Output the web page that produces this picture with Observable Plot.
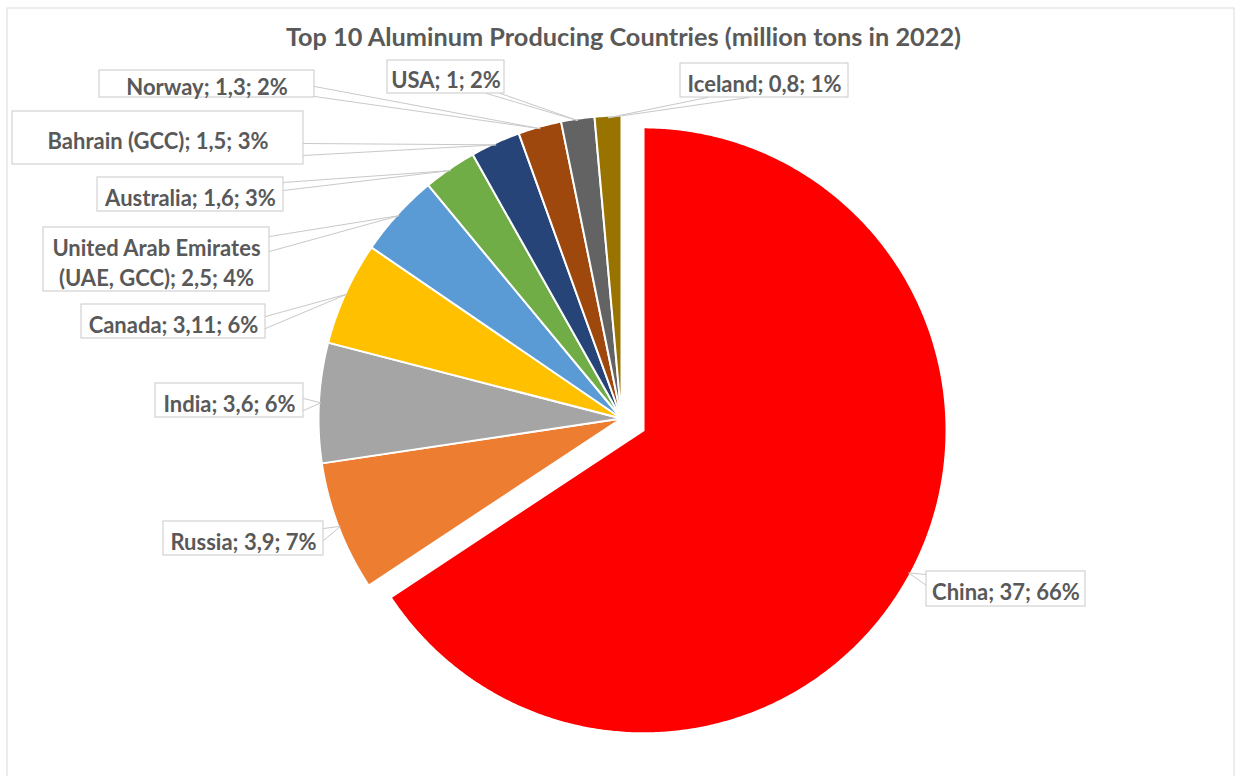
<!DOCTYPE html>
<html>
<head>
<meta charset="utf-8">
<script src="https://cdn.jsdelivr.net/npm/d3@7"></script>
<script src="https://cdn.jsdelivr.net/npm/@observablehq/plot@0.6"></script>
<style>
  html, body { margin: 0; padding: 0; background: #fff; }
  #chart svg { display: block; }
</style>
</head>
<body>
<div id="chart"></div>
<script>
// ---- Data ----
const countries = ["China", "Russia", "India", "Canada", "United Arab Emirates\n(UAE, GCC)", "Australia", "Bahrain (GCC)", "Norway", "USA", "Iceland"];
const production = [37, 3.9, 3.6, 3.11, 2.5, 1.6, 1.5, 1.3, 1, 0.8]; // million tons, 2022
const sliceColors = ["#FF0000", "#ED7D31", "#A5A5A5", "#FFC000", "#5B9BD5", "#70AD47", "#264478", "#9E480E", "#636363", "#997300"];
const exploded = ["China"];
const title = "Top 10 Aluminum Producing Countries (million tons in 2022)";

// ---- Layout (label callout boxes, pixels) ----
const labelBoxes = [
  [926, 571, 1085, 606], [163, 521, 323, 555], [155, 383, 303, 417], [81, 304, 265, 338],
  [43, 227, 269, 291], [97, 177, 283, 211], [12, 111, 303, 164], [99, 70, 314, 97],
  [387, 60, 504, 93], [680, 63, 848, 97]
];
const labelSides = ["left", "right", "right", "right", "right", "right", "right", "right", "bottom", "bottom"];
const labelBases = [[574, 585], [528, 540], [398, 410], [316, 328], [236, 251], [182, 190], [143, 155], [86, 96], [486, 500], [707, 748]];

const W = 1237, H = 776;
const cx = 621, cy = 418, R = 303, explodeDist = 25;

// ---- Derived geometry ----
const total = d3.sum(production);
const keys = countries.map(c => c.replace("\n", " "));
let acc = 0;
const slices = production.map((v, i) => {
  const a0 = acc / total * 2 * Math.PI;
  acc += v;
  const a1 = acc / total * 2 * Math.PI;
  const mid = (a0 + a1) / 2;
  const off = exploded.includes(keys[i]) ? explodeDist : 0;
  return {key: keys[i], v, a0, a1, mid, ox: cx + off * Math.sin(mid), oy: cy - off * Math.cos(mid)};
});

const slicePts = [];
for (const s of slices) {
  const n = Math.max(2, Math.ceil((s.a1 - s.a0) / (Math.PI / 360)));
  slicePts.push({key: s.key, x: s.ox, y: s.oy});
  for (let k = 0; k <= n; k++) {
    const a = s.a0 + (s.a1 - s.a0) * k / n;
    slicePts.push({key: s.key, x: s.ox + R * Math.sin(a), y: s.oy - R * Math.cos(a)});
  }
  slicePts.push({key: s.key, x: s.ox, y: s.oy});
}

const fmt = v => String(v).replace(".", ",");
const labels = slices.map((s, i) => ({
  key: s.key,
  text: `${countries[i]}; ${fmt(s.v)}; ${Math.round(s.v / total * 100)}%`,
  box: labelBoxes[i]
}));

// callout wedges
const wedgePts = [];
slices.forEach((s, i) => {
  const [x1, y1, x2, y2] = labelBoxes[i];
  const [b0, b1] = labelBases[i];
  const tip = {x: s.ox + (R - 2) * Math.sin(s.mid), y: s.oy - (R - 2) * Math.cos(s.mid)};
  let p0, p1;
  if (labelSides[i] === "right") { p0 = [x2, b0]; p1 = [x2, b1]; }
  else if (labelSides[i] === "left") { p0 = [x1, b0]; p1 = [x1, b1]; }
  else if (labelSides[i] === "bottom") { p0 = [b0, y2]; p1 = [b1, y2]; }
  else { p0 = [b0, y1]; p1 = [b1, y1]; }
  wedgePts.push({key: s.key, x: p0[0], y: p0[1]});
  wedgePts.push({key: s.key, x: tip.x, y: tip.y});
  wedgePts.push({key: s.key, x: p1[0], y: p1[1]});
});

const font = "Lato, 'Open Sans', sans-serif";
const textColor = "#595959";
const lineColor = "#c9c9c9";

const chart = Plot.plot({
  width: W,
  height: H,
  margin: 0,
  x: {domain: [0, W], range: [0, W], axis: null},
  y: {domain: [0, H], range: [0, H], axis: null},
  color: {domain: keys, range: sliceColors},
  style: {background: "#fff", overflow: "visible"},
  marks: [
    // outer chart border
    Plot.rect([0], {x1: () => 7, x2: () => 1234, y1: () => 8, y2: () => H + 4, fill: "white", stroke: "#d9d9d9", strokeWidth: 1}),
    // pie slices
    Plot.line(slicePts, {x: "x", y: "y", z: "key", fill: "key", stroke: "white", strokeWidth: 2, strokeLinejoin: "round", curve: "linear"}),
    // callout pointers
    Plot.line(wedgePts, {x: "x", y: "y", z: "key", fill: "none", stroke: lineColor, strokeWidth: 1, curve: "linear"}),
    // label boxes
    Plot.rect(labels, {x1: d => d.box[0], x2: d => d.box[2], y1: d => d.box[1], y2: d => d.box[3], fill: "white", stroke: lineColor, strokeWidth: 1}),
    // label texts
    Plot.text(labels, {
      x: d => (d.box[0] + d.box[2]) / 2,
      y: d => (d.box[1] + d.box[3]) / 2 + 1.5,
      text: "text", lineAnchor: "middle", textAnchor: "middle", lineHeight: 1.36,
      fontSize: 22, fontWeight: "bold", fontFamily: font, fill: textColor
    }),
    // title
    Plot.text([title], {
      x: () => 623, y: () => 37.5, text: d => d, lineAnchor: "middle", textAnchor: "middle",
      fontSize: 25.3, fontWeight: "bold", fontFamily: font, fill: textColor
    })
  ]
});
document.getElementById("chart").appendChild(chart);
</script>
</body>
</html>
